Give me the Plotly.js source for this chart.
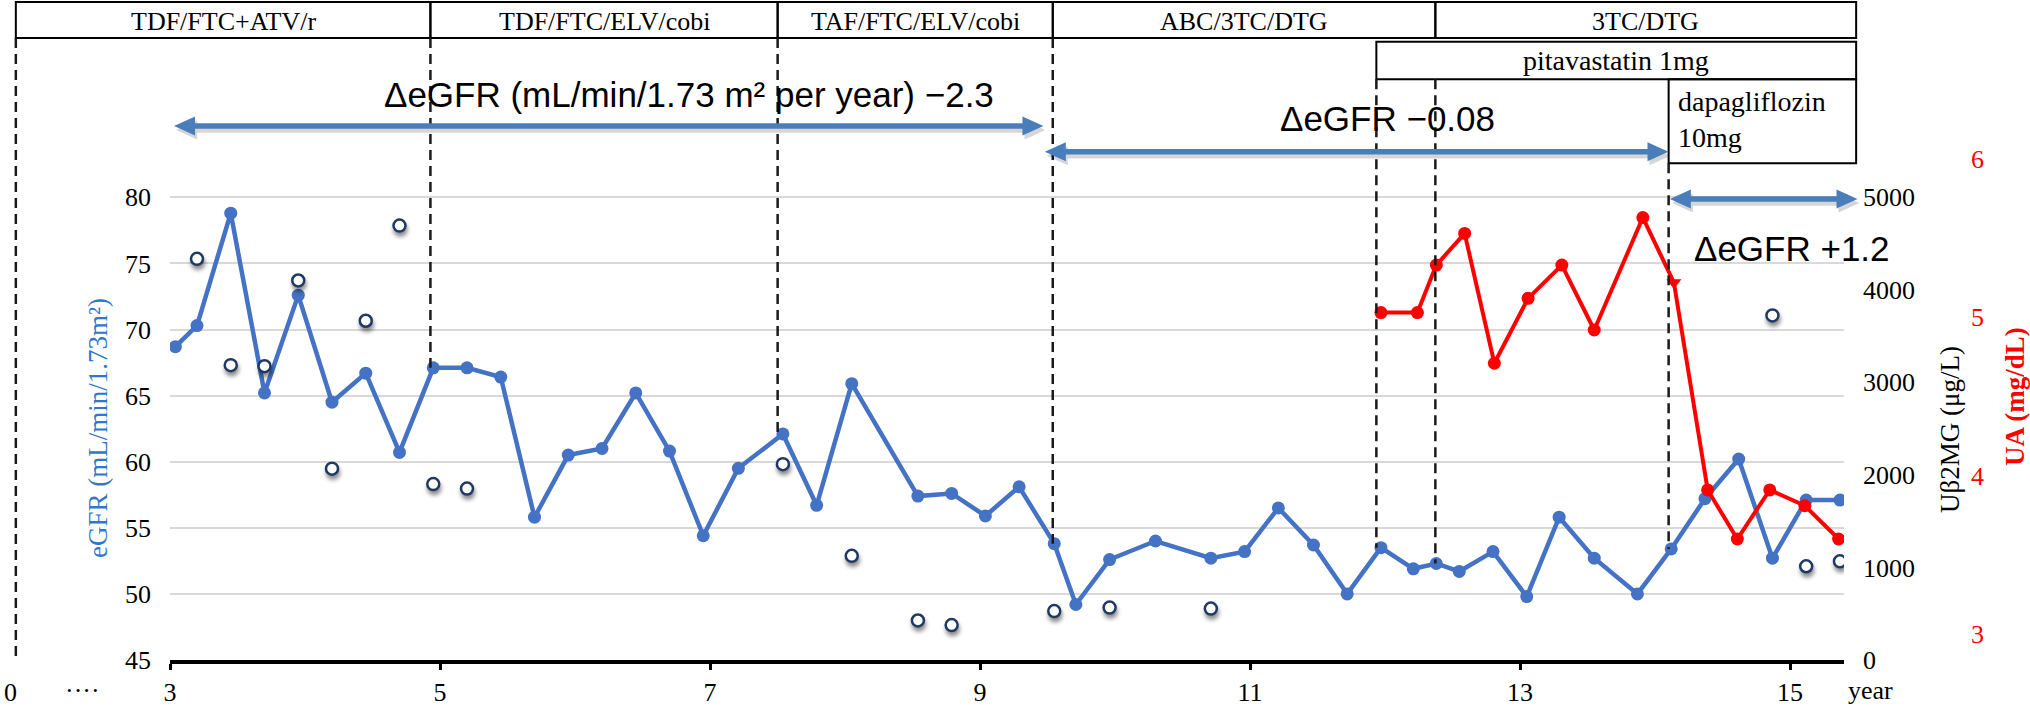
<!DOCTYPE html>
<html>
<head>
<meta charset="utf-8">
<script src="https://cdn.plot.ly/plotly-3.0.1.min.js"></script>
<style>
  html, body { margin: 0; padding: 0; background: #ffffff; }
  #chart { width: 2030px; height: 708px; }
  /* soft drop shadow under the open Uβ2MG circles */
  .xy2 .scatterlayer path.point { filter: drop-shadow(1px 4px 2px rgba(0, 0, 0, 0.45)); }
</style>
</head>
<body>
<div id="chart"></div>
<script>
// ---- eGFR (mL/min/1.73m2), filled blue markers ----
const egfrYears = [3.04, 3.20, 3.45, 3.70, 3.95, 4.20, 4.45, 4.70, 4.95, 5.20, 5.45, 5.70, 5.95, 6.20,
  6.45, 6.70, 6.95, 7.21, 7.54, 7.79, 8.05, 8.54, 8.79, 9.04, 9.29, 9.55, 9.71, 9.96, 10.30, 10.71,
  10.96, 11.21, 11.47, 11.72, 11.97, 12.21, 12.38, 12.55, 12.80, 13.05, 13.29, 13.55, 13.87, 14.12,
  14.37, 14.62, 14.87, 15.12, 15.37];
const egfrValues = [68.7, 70.3, 78.8, 65.2, 72.6, 64.5, 66.7, 60.7, 67.1, 67.1, 66.4, 55.8, 60.5, 61.0,
  65.2, 60.8, 54.4, 59.5, 62.1, 56.7, 65.9, 57.4, 57.6, 55.9, 58.1, 53.8, 49.2, 52.6, 54.0, 52.7,
  53.2, 56.5, 53.7, 50.0, 53.5, 51.9, 52.3, 51.7, 53.2, 49.8, 55.8, 52.7, 50.0, 53.4,
  57.2, 60.2, 52.7, 57.1, 57.1];

// ---- urinary beta2-microglobulin (μg/L), open circles ----
const ub2mgYears = [3.20, 3.45, 3.70, 3.95, 4.20, 4.45, 4.70, 4.95, 5.20, 7.54, 8.05, 8.54, 8.79,
  9.55, 9.96, 10.71, 14.87, 15.12, 15.37];
const ub2mgValues = [4335, 3186, 3175, 4101, 2067, 3666, 4694, 1901, 1852, 2116, 1126, 427, 378,
  529, 567, 556, 3723, 1013, 1066];

// ---- uric acid (mg/dL), red ----
const uaYears = [11.97, 12.24, 12.38, 12.59, 12.81, 13.06, 13.31, 13.55, 13.91, 14.14, 14.39, 14.61,
  14.85, 15.11, 15.36];
const uaValues = [5.03, 5.03, 5.33, 5.53, 4.71, 5.12, 5.33, 4.92, 5.63, 5.22, 3.91, 3.60, 3.91, 3.81, 3.60];

// ---- ticks ----
const xTickVals = [3, 5, 7, 9, 11, 13, 15];
const egfrTickVals = [45, 50, 55, 60, 65, 70, 75, 80];
const ub2mgTickVals = [0, 1000, 2000, 3000, 4000, 5000];
const uaTickVals = [3, 4, 5, 6];

// ---- treatment timeline (years) ----
const regimenNames = ['TDF/FTC+ATV/r', 'TDF/FTC/ELV/cobi', 'TAF/FTC/ELV/cobi', 'ABC/3TC/DTG', '3TC/DTG'];
const regimenStarts = [1.858, 4.929, 7.501, 9.539, 12.373];
const timelineEnd = 15.49;
const pitavastatinStart = 11.936;
const dapagliflozinStart = 14.101;

// eGFR slope annotations: [start year, end year], label
const slopeSpans = [[3.03, 9.47], [9.48, 14.10], [14.11, 15.50]];
const slopeLabels = ['ΔeGFR (mL/min/1.73 m² per year) −2.3', 'ΔeGFR −0.08', 'ΔeGFR +1.2'];

// ---- geometry ----
const W = 2030, H = 708;
const M = { l: 170, r: 20, t: 150, b: 48 };
const PW = W - M.l - M.r, PH = H - M.t - M.b;
const X_RANGE = [3, 15.40];
const X_DOMAIN_END = 1674 / PW;
const EGFR_RANGE = [45, 45 + PH / 13.22];
const UB2MG_RANGE = [0, (EGFR_RANGE[1] - 45) * 5000 / 35];
const UA_RANGE = [3 - 26 / 158.33, 6 + 9 / 158.33];

const SERIF = 'Liberation Serif, Times New Roman, serif';
const SANS = 'Liberation Sans, Arial, sans-serif';

function xp(year) { return (year - X_RANGE[0]) / (X_RANGE[1] - X_RANGE[0]) * X_DOMAIN_END; }
function yearToPix(year) { return M.l + xp(year) * PW; }
function xPix(p) { return (p - M.l) / PW; }
function yPix(p) { return (H - M.b - p) / PH; }
function yEgfr(v) { return (v - EGFR_RANGE[0]) / (EGFR_RANGE[1] - EGFR_RANGE[0]); }
function egfrNear(t) {
  let best = 0;
  egfrYears.forEach((y, i) => { if (Math.abs(y - t) < Math.abs(egfrYears[best] - t)) best = i; });
  return egfrValues[best];
}

// ---- traces ----
const traces = [
  {
    x: egfrYears, y: egfrValues, type: 'scatter', mode: 'lines+markers', xaxis: 'x', yaxis: 'y',
    line: { color: '#4472C4', width: 4.5 },
    marker: { color: '#4472C4', size: 13 },
    hoverinfo: 'skip', showlegend: false
  },
  {
    x: ub2mgYears, y: ub2mgValues, type: 'scatter', mode: 'markers', xaxis: 'x', yaxis: 'y2',
    marker: { color: '#ffffff', size: 12, line: { color: '#1F3864', width: 2.5 } },
    hoverinfo: 'skip', showlegend: false
  },
  {
    x: uaYears, y: uaValues, type: 'scatter', mode: 'lines+markers', xaxis: 'x', yaxis: 'y3',
    line: { color: '#FF0000', width: 4 },
    marker: {
      color: '#FF0000', size: 13,
      symbol: uaYears.map(t => (Math.abs(t - dapagliflozinStart) < 0.1 ? 'triangle-down' : 'circle'))
    },
    hoverinfo: 'skip', showlegend: false
  }
];

// ---- shapes ----
const shapes = [];
const boxLine = { color: '#000000', width: 2 };

regimenNames.forEach((name, i) => {
  const end = i + 1 < regimenStarts.length ? regimenStarts[i + 1] : timelineEnd;
  shapes.push({ type: 'rect', xref: 'paper', yref: 'paper', x0: xp(regimenStarts[i]), x1: xp(end),
    y0: yPix(38), y1: yPix(2), line: boxLine });
});
shapes.push({ type: 'rect', xref: 'paper', yref: 'paper', x0: xp(pitavastatinStart), x1: xp(timelineEnd),
  y0: yPix(79.3), y1: yPix(41.7), line: boxLine });
shapes.push({ type: 'rect', xref: 'paper', yref: 'paper', x0: xp(dapagliflozinStart), x1: xp(timelineEnd),
  y0: yPix(163.3), y1: yPix(79.3), line: boxLine });

// dashed guide lines from the timeline down to the eGFR point at each change
const dashLine = { color: '#1a1a1a', width: 2.5, dash: '10px,6px' };
shapes.push({ type: 'line', xref: 'paper', yref: 'paper', x0: xp(regimenStarts[0]), x1: xp(regimenStarts[0]),
  y0: yPix(38), y1: yPix(656), line: dashLine });
[regimenStarts[1], regimenStarts[2], regimenStarts[3]].forEach(t => {
  shapes.push({ type: 'line', xref: 'paper', yref: 'paper', x0: xp(t), x1: xp(t),
    y0: yPix(38), y1: yEgfr(egfrNear(t)), line: dashLine });
});
[pitavastatinStart, regimenStarts[4]].forEach(t => {
  shapes.push({ type: 'line', xref: 'paper', yref: 'paper', x0: xp(t), x1: xp(t),
    y0: yPix(79.3), y1: yEgfr(egfrNear(t)), line: dashLine });
});
shapes.push({ type: 'line', xref: 'paper', yref: 'paper', x0: xp(dapagliflozinStart), x1: xp(dapagliflozinStart),
  y0: yPix(163.3), y1: yEgfr(egfrNear(dapagliflozinStart)), line: dashLine });

// double-headed slope arrows
function arrowPath(xa, xb, y, dx, dy) {
  const L = 21, HH = 9.5, S = 2.8;
  const pts = [[xa, y], [xa + L, y - HH], [xa + L, y - S], [xb - L, y - S], [xb - L, y - HH], [xb, y],
    [xb - L, y + HH], [xb - L, y + S], [xa + L, y + S], [xa + L, y + HH]];
  return 'M' + pts.map(p => xPix(p[0] + dx).toFixed(5) + ',' + yPix(p[1] + dy).toFixed(5)).join('L') + 'Z';
}
const arrowRows = [126, 151.7, 199];
slopeSpans.forEach((span, i) => {
  const xa = yearToPix(span[0]), xb = yearToPix(span[1]);
  shapes.push({ type: 'path', xref: 'paper', yref: 'paper', path: arrowPath(xa, xb, arrowRows[i], 2, 4),
    fillcolor: 'rgba(0,0,0,0.16)', line: { width: 0 } });
  shapes.push({ type: 'path', xref: 'paper', yref: 'paper', path: arrowPath(xa, xb, arrowRows[i], 0, 0),
    fillcolor: '#4A7EBB', line: { width: 0 } });
});

// ---- annotations ----
const annotations = [];
function note(text, x, y, opts) {
  annotations.push(Object.assign({ text, x, y, xref: 'paper', yref: 'paper', showarrow: false,
    xanchor: 'center', yanchor: 'middle', font: { family: SERIF, size: 26, color: '#000000' } }, opts || {}));
}
regimenNames.forEach((name, i) => {
  const end = i + 1 < regimenStarts.length ? regimenStarts[i + 1] : timelineEnd;
  note(name, (xp(regimenStarts[i]) + xp(end)) / 2, yPix(21));
});
note('pitavastatin 1mg', (xp(pitavastatinStart) + xp(timelineEnd)) / 2, yPix(61), { font: { family: SERIF, size: 28, color: '#000' } });
note('dapagliflozin<br>10mg', xPix(1676), yPix(119), { xanchor: 'left', align: 'left', font: { family: SERIF, size: 28, color: '#000' } });

const slopeFont = { family: SANS, size: 35, color: '#000000' };
note(slopeLabels[0], xPix(689), yPix(95), { font: slopeFont });
note(slopeLabels[1], xPix(1387), yPix(118), { font: slopeFont });
note(slopeLabels[2], xPix(1692), yPix(248), { xanchor: 'left', font: slopeFont });

note('eGFR (mL/min/1.73m²)', xPix(98), yPix(428), { textangle: -90, font: { family: SERIF, size: 27, color: '#2E78CC' } });
note('Uβ2MG (μg/L)', xPix(1950), yPix(430), { textangle: -90, font: { family: SERIF, size: 27, color: '#000' } });
note('<b>UA (mg/dL)</b>', xPix(2015), yPix(397), { textangle: -90, font: { family: SERIF, size: 27, color: '#FF0000' } });
note('year', xPix(1870), yPix(690));
note('0', xPix(10), yPix(692));
note('····', xPix(82), yPix(690));

// ---- layout ----
const tickFont = { family: SERIF, size: 26, color: '#000000' };
const layout = {
  width: W, height: H,
  margin: M,
  paper_bgcolor: '#ffffff', plot_bgcolor: '#ffffff',
  showlegend: false,
  xaxis: {
    domain: [0, X_DOMAIN_END], range: X_RANGE, tickvals: xTickVals,
    showline: true, linecolor: '#000000', linewidth: 4, zeroline: false, showgrid: false,
    ticks: 'outside', ticklen: 6, tickwidth: 3, tickcolor: '#000000', tickfont: tickFont
  },
  yaxis: {
    range: EGFR_RANGE, tickvals: egfrTickVals, showline: false, zeroline: false,
    showgrid: true, gridcolor: '#D9D9D9', gridwidth: 2, ticks: '', tickfont: tickFont,
    ticklabelstandoff: 18
  },
  yaxis2: {
    overlaying: 'y', side: 'right', anchor: 'x', range: UB2MG_RANGE, tickvals: ub2mgTickVals,
    showgrid: false, showline: false, zeroline: false, ticks: '', tickfont: tickFont,
    ticklabelstandoff: 18
  },
  yaxis3: {
    overlaying: 'y', side: 'right', anchor: 'free', position: xPix(1970), range: UA_RANGE,
    tickvals: uaTickVals, showgrid: false, showline: false, zeroline: false, ticks: '',
    tickfont: { family: SERIF, size: 26, color: '#FF0000' }
  },
  shapes: shapes,
  annotations: annotations
};

Plotly.newPlot('chart', traces, layout, { displayModeBar: false, staticPlot: true });
</script>
</body>
</html>
